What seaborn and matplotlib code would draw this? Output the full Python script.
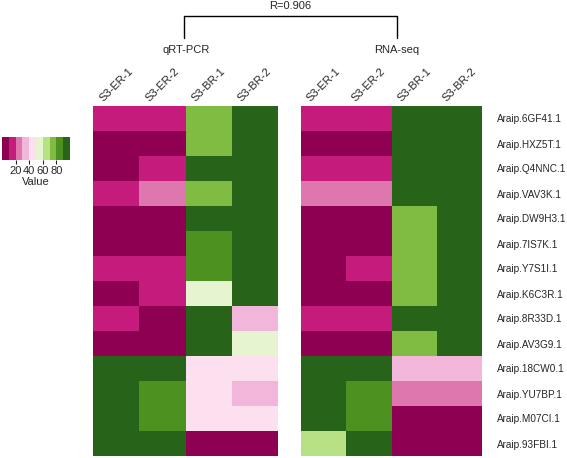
import numpy as np
import pandas as pd
import matplotlib
matplotlib.use("Agg")
import matplotlib.pyplot as plt
from matplotlib.colors import ListedColormap
import seaborn as sns

sns.set_style("white")
plt.rcParams['font.family'] = ['Liberation Sans', 'DejaVu Sans']

# data (0-100 scale)
genes = ['Araip.6GF41.1', 'Araip.HXZ5T.1', 'Araip.Q4NNC.1', 'Araip.VAV3K.1',
         'Araip.DW9H3.1', 'Araip.7IS7K.1', 'Araip.Y7S1I.1', 'Araip.K6C3R.1',
         'Araip.8R33D.1', 'Araip.AV3G9.1', 'Araip.18CW0.1', 'Araip.YU7BP.1',
         'Araip.M07CI.1', 'Araip.93FBI.1']
samples = ['S3-ER-1', 'S3-ER-2', 'S3-BR-1', 'S3-BR-2']

qpcr_er1 = [15, 5, 5, 15, 5, 5, 15, 5, 15, 5, 95, 95, 95, 95]
qpcr_er2 = [15, 5, 15, 25, 5, 5, 15, 15, 5, 5, 95, 85, 85, 95]
qpcr_br1 = [75, 75, 95, 75, 95, 85, 85, 55, 95, 95, 45, 45, 45, 5]
qpcr_br2 = [95, 95, 95, 95, 95, 95, 95, 95, 35, 55, 45, 35, 45, 5]

rna_er1 = [15, 5, 15, 25, 5, 5, 5, 5, 15, 5, 95, 95, 95, 65]
rna_er2 = [15, 5, 15, 25, 5, 5, 15, 5, 15, 5, 95, 85, 85, 95]
rna_br1 = [95, 95, 95, 95, 75, 75, 75, 75, 95, 75, 35, 25, 5, 5]
rna_br2 = [95, 95, 95, 95, 95, 95, 95, 95, 95, 95, 35, 25, 5, 5]

qpcr = pd.DataFrame({'S3-ER-1': qpcr_er1, 'S3-ER-2': qpcr_er2,
                     'S3-BR-1': qpcr_br1, 'S3-BR-2': qpcr_br2}, index=genes)
rna = pd.DataFrame({'S3-ER-1': rna_er1, 'S3-ER-2': rna_er2,
                    'S3-BR-1': rna_br1, 'S3-BR-2': rna_br2}, index=genes)

# 10-step PiYG (ColorBrewer)
cmap = ListedColormap(['#8e0152', '#c51b7d', '#de77ae', '#f1b6da', '#fde0ef',
                       '#e6f5d0', '#b8e186', '#7fbc41', '#4d9221', '#276419'])

fig = plt.figure(figsize=(5.67, 4.58), dpi=100)
W, H = 567, 458

def box(x0, y0, x1, y1):
    return [x0 / W, 1 - y1 / H, (x1 - x0) / W, (y1 - y0) / H]

ax1 = fig.add_axes(box(93, 106, 278, 456))
ax2 = fig.add_axes(box(301, 106, 482, 456))
cax = fig.add_axes(box(2, 137, 70, 160))

sns.heatmap(qpcr, ax=ax1, cmap=cmap, vmin=0, vmax=100, cbar=False)
sns.heatmap(rna, ax=ax2, cmap=cmap, vmin=0, vmax=100, cbar=False)

for ax in (ax1, ax2):
    ax.xaxis.tick_top()
    ax.set_xticklabels(samples, rotation=45, ha='center', va='bottom', fontsize=8)
    ax.tick_params(axis='both', length=0, pad=2)
    ax.set_xlabel('')
    ax.set_ylabel('')

ax1.set_yticks([])
ax2.yaxis.tick_right()
ax2.set_yticklabels(genes, rotation=0, fontsize=7.2)
ax2.tick_params(axis='y', pad=10.5)

cb = fig.colorbar(ax1.collections[0], cax=cax, orientation='horizontal')
cb.set_ticks([20, 40, 60, 80])
cb.ax.tick_params(labelsize=8, length=3, pad=1)
cb.outline.set_visible(False)
cb.set_label('Value', fontsize=8, labelpad=1)

# group labels and bracket
fig.text(186 / W, 1 - 50 / H, 'qRT-PCR', ha='center', va='center', fontsize=8)
fig.text(397 / W, 1 - 50 / H, 'RNA-seq', ha='center', va='center', fontsize=8)
fig.text(290 / W, 1 - 6 / H, 'R=0.906', ha='center', va='center', fontsize=8)
xs = np.array([184, 184, 397, 397]) / W
ys = 1 - np.array([38, 16, 16, 38]) / H
fig.add_artist(plt.Line2D(xs, ys, color='black', lw=1))

fig.savefig('out.png', dpi=100)
